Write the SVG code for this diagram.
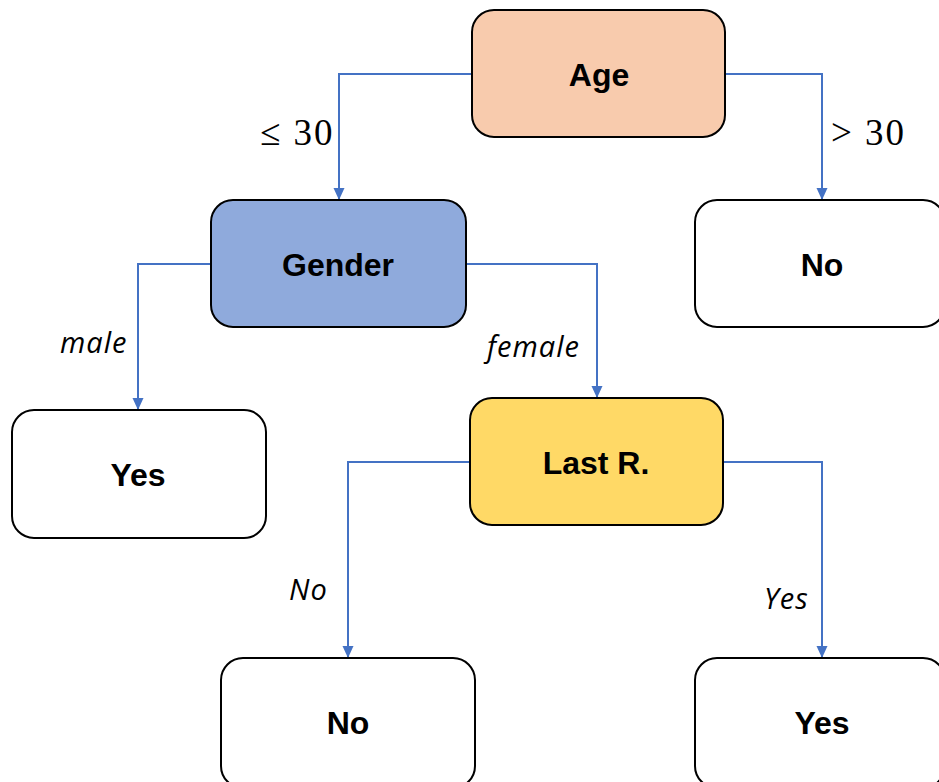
<svg xmlns="http://www.w3.org/2000/svg" width="939" height="782" viewBox="0 0 939 782">
<defs>
<style>
.box{stroke:#000;stroke-width:2}
.lbl{font-family:"Liberation Sans",Arial,sans-serif;font-weight:bold;font-size:32px;text-anchor:middle;fill:#000}
.it{font-family:"Open Sans","Liberation Sans",sans-serif;font-style:italic;font-size:29px;letter-spacing:1px;fill:#000}
.math{font-family:"Liberation Serif","DejaVu Serif",serif;font-size:37px;fill:#000;letter-spacing:2px}
.conn{fill:none;stroke:#4472C4;stroke-width:2}
</style>
<marker id="ah" markerWidth="12" markerHeight="13" viewBox="0 0 13 12" refX="12" refY="6" orient="auto" markerUnits="userSpaceOnUse">
<path d="M0,0 L13,6 L0,12 Z" fill="#4472C4"/>
</marker>
</defs>
<rect width="939" height="782" fill="#fff"/>
<g id="connectors">
<path class="conn" d="M472,74 H339 V199" marker-end="url(#ah)"/>
<path class="conn" d="M725,74 H822 V199" marker-end="url(#ah)"/>
<path class="conn" d="M211,264 H138 V409" marker-end="url(#ah)"/>
<path class="conn" d="M466,264 H597 V397" marker-end="url(#ah)"/>
<path class="conn" d="M470,462 H348 V657" marker-end="url(#ah)"/>
<path class="conn" d="M723,462 H822 V657" marker-end="url(#ah)"/>
<text class="math" x="260" y="145">≤ 30</text>
<text class="math" x="831" y="145">&gt; 30</text>
<text class="it" x="60" y="353">male</text>
<text class="it" x="487" y="357">female</text>
<text class="it" x="289" y="600">No</text>
<text class="it" x="764" y="609">Yes</text>
</g>
<g id="age">
<rect class="box" x="472" y="10" width="253" height="127" rx="22" fill="#F8CBAD"/>
<text class="lbl" x="599" y="86">Age</text>
</g>
<g id="no-top">
<rect class="box" x="695" y="200" width="250" height="127" rx="22" fill="#fff"/>
<text class="lbl" x="822" y="276">No</text>
</g>
<g id="gender">
<rect class="box" x="211" y="200" width="255" height="127" rx="22" fill="#8FAADC"/>
<text class="lbl" x="338" y="276">Gender</text>
</g>
<g id="yes-left">
<rect class="box" x="12" y="410" width="254" height="128" rx="22" fill="#fff"/>
<text class="lbl" x="138" y="486">Yes</text>
</g>
<g id="lastr">
<rect class="box" x="470" y="398" width="253" height="127" rx="22" fill="#FFD966"/>
<text class="lbl" x="596" y="474">Last R.</text>
</g>
<g id="no-bottom">
<rect class="box" x="221" y="658" width="254" height="130" rx="22" fill="#fff"/>
<text class="lbl" x="348" y="734">No</text>
</g>
<g id="yes-bottom">
<rect class="box" x="695" y="658" width="250" height="130" rx="22" fill="#fff"/>
<text class="lbl" x="822" y="734">Yes</text>
</g>
</svg>
